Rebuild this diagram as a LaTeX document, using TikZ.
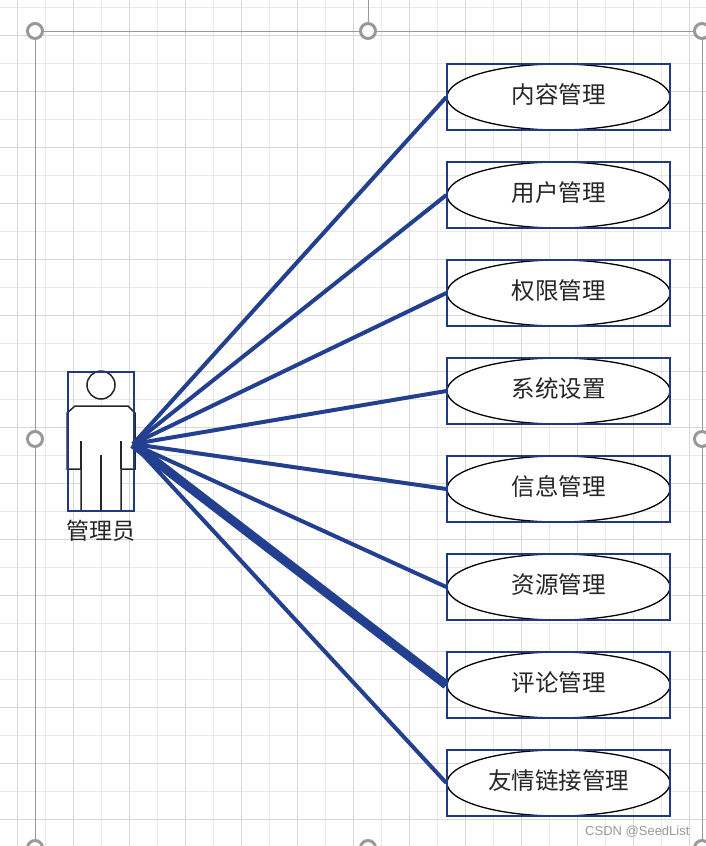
\documentclass[tikz,border=0pt]{standalone}
\usepackage{fontspec}
\setmainfont{Noto Sans CJK SC}
\newfontfamily\wmfont{Liberation Sans}
\usepackage{xcolor}
\usetikzlibrary{shapes.geometric}
\definecolor{link-blue}{HTML}{234090}
\definecolor{box-blue}{HTML}{1F3A82}
\definecolor{sheet-grid}{HTML}{D8D8D8}
\definecolor{sheet-grid-light}{HTML}{E8E8E8}
\definecolor{frame-gray}{HTML}{999999}
\tikzset{
  casebox/.style={draw=box-blue, line width=2pt, minimum width=223pt, minimum height=66pt, inner sep=0pt},
  caseoval/.style={draw=black, fill=white, ellipse, line width=1.3pt, minimum width=223pt, minimum height=66pt,
                   inner sep=0pt, text height=18pt, text depth=6pt, font=\fontsize{23.5pt}{26pt}\selectfont, text=black!85},
  handle/.style={draw=frame-gray, fill=white, circle, line width=3pt, minimum size=15pt, inner sep=0pt},
  link/.style={draw=link-blue, line width=4pt},
  figline/.style={draw=black!85, line width=1.5pt}
}
\begin{document}
\begin{tikzpicture}[x=1pt, y=-1pt]
    \clip (0,0) rectangle (706,846);
    \fill[white] (0,0) rectangle (706,846);
    \foreach \gx in {45,101,...,689} {\draw[sheet-grid-light, line width=1pt] (\gx,0) -- (\gx,846);}
    \foreach \gy in {7,63,...,847} {\draw[sheet-grid-light, line width=1pt] (0,\gy) -- (706,\gy);}
    \foreach \gx in {17,73,...,689} {\draw[sheet-grid, line width=1pt] (\gx,0) -- (\gx,846);}
    \foreach \gy in {35,91,...,847} {\draw[sheet-grid, line width=1pt] (0,\gy) -- (706,\gy);}

    \draw[frame-gray, line width=1pt] (35,31) -- (702,31) -- (702,846) (35,31) -- (35,846) (368,0) -- (368,31);
    \node[handle] (h1) at (35,31) {};
    \node[handle] (h2) at (368,31) {};
    \node[handle] (h3) at (702,31) {};
    \node[handle] (h4) at (35,439) {};
    \node[handle] (h5) at (702,439) {};
    \node[handle] (h6) at (35,848) {};
    \node[handle] (h7) at (368,848) {};
    \node[handle] (h8) at (702,848) {};

    \draw[figline, fill=white] (67,413) -- (75,406) -- (128,406) -- (135,413) -- (135,469) -- (121,469)
      -- (121,511) -- (81,511) -- (81,469) -- (67,469) -- cycle;
    \draw[figline] (81,441) -- (81,469) (121,441) -- (121,469) (101,455) -- (101,511);
    \node[draw=black!85, fill=white, circle, line width=1.5pt, minimum size=28pt, inner sep=0pt] (head) at (101,385) {};
    \node[draw=box-blue, line width=2pt, minimum width=66pt, minimum height=139pt, inner sep=0pt] (actor) at (101,441.5) {};
    \node[font=\fontsize{23pt}{25pt}\selectfont, text=black!85] (actorname) at (100.5,531) {管理员};
    \coordinate (hub) at (133,444);

    \node[caseoval] (c1) at (558.5,97) {内容管理};
    \node[casebox] (b1) at (558.5,97) {};
    \node[caseoval] (c2) at (558.5,195) {用户管理};
    \node[casebox] (b2) at (558.5,195) {};
    \node[caseoval] (c3) at (558.5,293) {权限管理};
    \node[casebox] (b3) at (558.5,293) {};
    \node[caseoval] (c4) at (558.5,391) {系统设置};
    \node[casebox] (b4) at (558.5,391) {};
    \node[caseoval] (c5) at (558.5,489) {信息管理};
    \node[casebox] (b5) at (558.5,489) {};
    \node[caseoval] (c6) at (558.5,587) {资源管理};
    \node[casebox] (b6) at (558.5,587) {};
    \node[caseoval] (c7) at (558.5,685) {评论管理};
    \node[casebox] (b7) at (558.5,685) {};
    \node[caseoval] (c8) at (558.5,783) {友情链接管理};
    \node[casebox] (b8) at (558.5,783) {};

    \draw[link] (hub) -- (c1.west);
    \draw[link] (hub) -- (c2.west);
    \draw[link] (hub) -- (c3.west);
    \draw[link] (hub) -- (c4.west);
    \draw[link] (hub) -- (c5.west);
    \draw[link] (hub) -- (c6.west);
    \draw[link, line width=9pt] (hub) -- (c7.west);
    \draw[link] (hub) -- (c8.west);

    \node[font=\wmfont\fontsize{13pt}{15pt}\selectfont, text=black!40, anchor=east] (mark) at (693,832) {CSDN @SeedList};
\end{tikzpicture}
\end{document}
